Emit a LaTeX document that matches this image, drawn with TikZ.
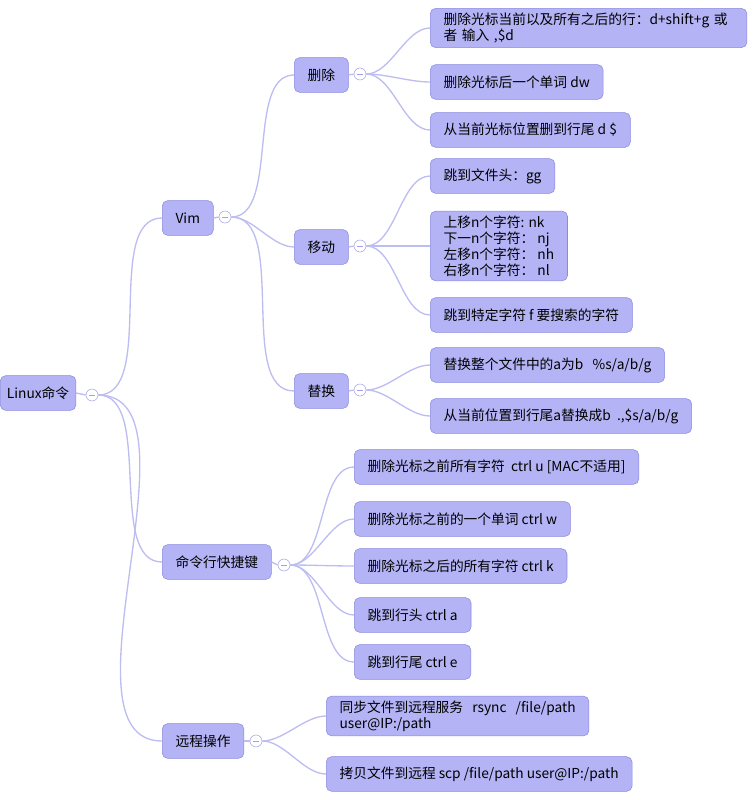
\documentclass[tikz,border=0pt]{standalone}
\usepackage{fontspec}
\setmainfont{Noto Sans CJK SC}
\usetikzlibrary{positioning}
\definecolor{boxfill}{HTML}{B3B3F5}
\definecolor{boxline}{HTML}{8A8AE0}
\definecolor{linkcol}{HTML}{BDBDF2}

\begin{document}
\begin{tikzpicture}[
    x=0.75pt, y=-0.75pt,
    font=\fontsize{10.3}{12}\selectfont,
    topic/.style={
        draw=boxline, fill=boxfill, rounded corners=4pt, anchor=west,
        inner xsep=10pt, minimum height=26pt, align=left
      },
    fold/.style={
        circle, draw=boxline!80, fill=white, minimum size=9pt, inner sep=0pt,
        path picture={\draw[boxline!80] ([xshift=-2pt]path picture bounding box.center) -- ([xshift=2pt]path picture bounding box.center);}
      },
    link/.style={draw=linkcol, line width=1pt, out=0, in=180, looseness=0.8},
  ]
  \useasboundingbox (0,0) rectangle (755,800);
  % root and branches
  \node[topic, inner xsep=5pt](root) at (0,393) {Linux命令};
  \node[fold](froot) at (92,395) {};
  \node[topic](vim) at (162,218) {Vim};
  \node[fold](fvim) at (225,217) {};
  \node[topic](del) at (294,75) {删除};
  \node[fold](fdel) at (360,74) {};
  \node[topic](mov) at (294,247) {移动};
  \node[fold](fmov) at (360,246) {};
  \node[topic](rep) at (294,391) {替换};
  \node[fold](frep) at (360,390) {};
  \node[topic](cmd) at (162,562) {命令行快捷键};
  \node[fold](fcmd) at (284,565) {};
  \node[topic](rem) at (162,741) {远程操作};
  \node[fold](frem) at (256,741) {};
  % leaves
  \node[topic, text width=290pt*0.75](d1) at (430,28) {删除光标当前以及所有之后的行：d+shift+g 或\\者 输入 ,\$d};
  \node[topic](d2) at (430,82) {删除光标后一个单词 dw};
  \node[topic](d3) at (430,130) {从当前光标位置删到行尾 d \$};
  \node[topic](m1) at (430,176) {跳到文件头：gg};
  \node[topic](m2) at (430,246) {上移n个字符: nk\\下一n个字符： nj\\左移n个字符： nh\\右移n个字符： nl};
  \node[topic](m3) at (430,315) {跳到特定字符 f 要搜索的字符};
  \node[topic](r1) at (430,365) {替换整个文件中的a为b \ \ \%s/a/b/g};
  \node[topic](r2) at (430,416) {从当前位置到行尾a替换成b \ .,\$s/a/b/g};
  \node[topic](c1) at (354,467) {删除光标之前所有字符 \ ctrl u [MAC不适用]};
  \node[topic](c2) at (354,519) {删除光标之前的一个单词 ctrl w};
  \node[topic](c3) at (354,566) {删除光标之后的所有字符 ctrl k};
  \node[topic](c4) at (354,615) {跳到行头 ctrl a};
  \node[topic](c5) at (354,662) {跳到行尾 ctrl e};
  \node[topic, text width=236pt*0.75](e1) at (326,716) {同步文件到远程服务 \ rsync \ /file/path user@IP:/path};
  \node[topic](e2) at (326,774) {拷贝文件到远程 scp /file/path user@IP:/path};
  % connectors
  \foreach \p/\f in {root/froot,vim/fvim,del/fdel,mov/fmov,rep/frep,cmd/fcmd,rem/frem}
    \draw[linkcol, line width=1pt] (\p.east) -- (\f.west);
  \foreach \f/\c in {froot/vim,froot/cmd,froot/rem,fvim/del,fvim/mov,fvim/rep,
      fdel/d1,fdel/d2,fdel/d3,fmov/m1,fmov/m2,fmov/m3,frep/r1,frep/r2,
      fcmd/c1,fcmd/c2,fcmd/c3,fcmd/c4,fcmd/c5,frem/e1,frem/e2}
    \draw[link] (\f.east) to (\c.west);
\end{tikzpicture}
\end{document}
